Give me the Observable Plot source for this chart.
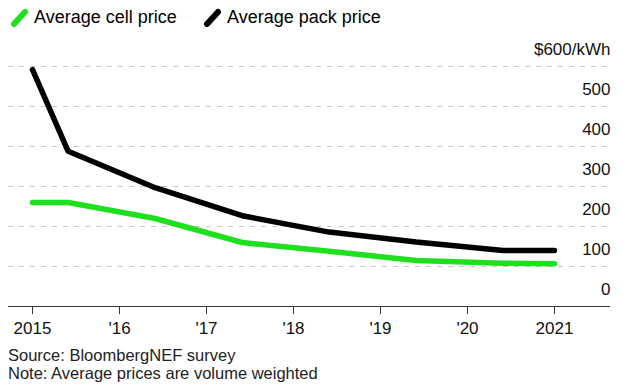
<!DOCTYPE html>
<html>
<head>
<meta charset="utf-8">
<script src="https://cdn.jsdelivr.net/npm/d3@7"></script>
<script src="https://cdn.jsdelivr.net/npm/@observablehq/plot@0.6"></script>
<style>
  body { margin: 0; background: #fff; font-family: "Liberation Sans", Arial, sans-serif; color: #000; }
  #wrap { width: 626px; height: 388px; position: relative; overflow: hidden; }
  .legend { height: 36px; position: relative; font-size: 18px; }
  .legend .item { position: absolute; top: 7px; display: flex; align-items: center; white-space: nowrap; }
  .legend svg { display: block; }
  .footer { position: absolute; left: 8px; top: 346px; font-size: 16.5px; line-height: 18px; color: #222; }
</style>
</head>
<body>
<div id="wrap">
  <div class="legend" id="legend"></div>
  <div id="chart"></div>
  <div class="footer" id="footer"></div>
</div>
<script>
// ---- data ----
const years = [2015, 2015.41, 2016.41, 2017.41, 2018.41, 2019.41, 2020.41, 2021];
const packPrice = [592, 388, 297, 227, 186, 161, 140, 140];
const cellPrice = [260, 260, 220, 160, 138, 115, 108, 107];
const seriesNames = ["Average cell price", "Average pack price"];
const seriesColors = ["#1fe01f", "#000000"];
const xTicks = [2015, 2016, 2017, 2018, 2019, 2020, 2021];
const xTickLabels = ["2015", "'16", "'17", "'18", "'19", "'20", "2021"];
const yTicks = [0, 100, 200, 300, 400, 500, 600];
const yTickLabels = ["0", "100", "200", "300", "400", "500", "$600/kWh"];
const footerLines = ["Source: BloombergNEF survey", "Note: Average prices are volume weighted"];

const rows = [];
years.forEach((y, i) => {
  rows.push({year: y, value: cellPrice[i], series: seriesNames[0]});
  rows.push({year: y, value: packPrice[i], series: seriesNames[1]});
});

// ---- legend ----
const legend = document.getElementById("legend");
const legendX = [9, 202];
seriesNames.forEach((name, i) => {
  const item = document.createElement("div");
  item.className = "item";
  item.style.left = legendX[i] + "px";
  item.innerHTML = `<svg width="22" height="20"><line x1="5" y1="16" x2="16" y2="4" stroke="${seriesColors[i]}" stroke-width="6" stroke-linecap="round"/></svg><span style="margin-left:3px">${name}</span>`;
  legend.appendChild(item);
});

// ---- chart ----
const chart = Plot.plot({
  width: 626,
  height: 306,
  marginTop: 30,
  marginBottom: 36,
  marginLeft: 8,
  marginRight: 16,
  style: {fontFamily: '"Liberation Sans", Arial, sans-serif', fontSize: "17px", color: "#000", background: "#fff", overflow: "visible"},
  x: {domain: [2014.724, 2021.644], axis: null},
  y: {domain: [0, 600], axis: null},
  color: {domain: seriesNames, range: seriesColors},
  marks: [
    Plot.ruleY(yTicks.filter(d => d > 0), {stroke: "#c8c8c8", strokeWidth: 1, strokeDasharray: "5,6"}),
    Plot.text(yTicks, {y: d => d, frameAnchor: "right", textAnchor: "end", dy: -17, text: (d, i) => yTickLabels[i], fill: "#111", fontSize: 17}),
    Plot.ruleY([0], {stroke: "#333", strokeWidth: 1}),
    Plot.axisX({ticks: xTicks, tickSize: 8, tickPadding: 7, tickFormat: d => xTickLabels[xTicks.indexOf(d)], fontSize: 17, stroke: "#333", fill: "#111", label: null}),
    Plot.lineY(rows, {x: "year", y: "value", z: "series", stroke: "series", strokeWidth: 5.5, strokeLinecap: "round", strokeLinejoin: "miter"})
  ]
});
document.getElementById("chart").appendChild(chart);

// ---- footer ----
document.getElementById("footer").innerHTML = footerLines.map(s => `<div>${s}</div>`).join("");
</script>
</body>
</html>
